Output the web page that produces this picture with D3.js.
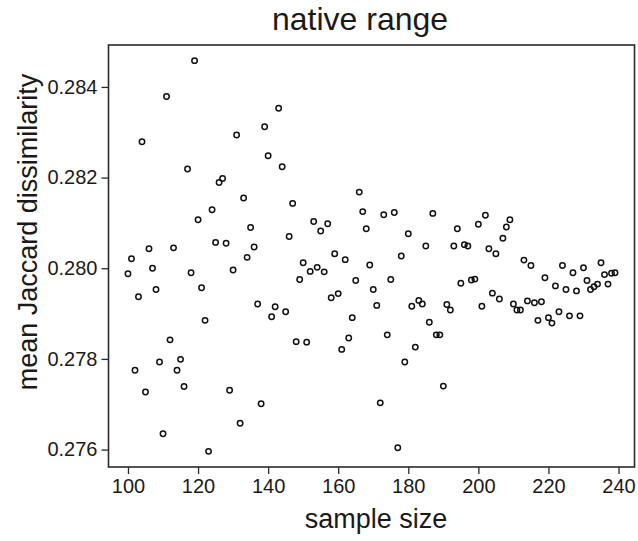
<!DOCTYPE html>
<head>
<meta charset="utf-8">
<title>native range</title>
<style>
  body { margin: 0; background: #fff; }
  svg { display: block; }
  text { font-family: "Liberation Sans", Arial, Helvetica, sans-serif; fill: #1a1a1a; }
  .tick text { font-size: 20px; }
  .tick line { stroke: #2a2a2a; stroke-width: 1.3px; }
  .pt { fill: none; stroke: #111; stroke-width: 1.5px; }
</style>
</head>
<body>
<script src="https://d3js.org/d3.v7.min.js"></script>
<script>

// sample sizes 100..239
var sampleSize = d3.range(100, 240);

// mean Jaccard dissimilarity
var dissim = [
  0.27988, 0.28021, 0.27775, 0.27937, 0.28279, 0.27727, 0.28043, 0.28000, 0.27953, 0.27793, // 100-109
  0.27635, 0.28379, 0.27842, 0.28045, 0.27775, 0.27799, 0.27739, 0.28219, 0.27990, 0.28458, // 110-119
  0.28107, 0.27957, 0.27885, 0.27596, 0.28129, 0.28057, 0.28189, 0.28198, 0.28055, 0.27731, // 120-129
  0.27996, 0.28294, 0.27658, 0.28155, 0.28024, 0.28090, 0.28047, 0.27921, 0.27701, 0.28312, // 130-139
  0.28248, 0.27893, 0.27915, 0.28353, 0.28224, 0.27904, 0.28070, 0.28143, 0.27838, 0.27975, // 140-149
  0.28012, 0.27837, 0.27993, 0.28103, 0.28002, 0.28082, 0.27992, 0.28098, 0.27935, 0.28032, // 150-159
  0.27944, 0.27821, 0.28019, 0.27846, 0.27891, 0.27973, 0.28168, 0.28125, 0.28087, 0.28007, // 160-169
  0.27953, 0.27918, 0.27703, 0.28118, 0.27853, 0.27975, 0.28123, 0.27604, 0.28027, 0.27793, // 170-179
  0.28076, 0.27916, 0.27826, 0.27929, 0.27921, 0.28049, 0.27881, 0.28121, 0.27853, 0.27853, // 180-189
  0.27740, 0.27920, 0.27908, 0.28049, 0.28087, 0.27967, 0.28052, 0.28049, 0.27974, 0.27976, // 190-199
  0.28097, 0.27916, 0.28117, 0.28043, 0.27945, 0.28032, 0.27932, 0.28066, 0.28091, 0.28107, // 200-209
  0.27921, 0.27908, 0.27908, 0.28018, 0.27928, 0.28006, 0.27924, 0.27885, 0.27926, 0.27979, // 210-219
  0.27891, 0.27879, 0.27961, 0.27904, 0.28006, 0.27953, 0.27895, 0.27990, 0.27950, 0.27895, // 220-229
  0.28001, 0.27973, 0.27953, 0.27959, 0.27965, 0.28012, 0.27986, 0.27965, 0.27989, 0.27990  // 230-239
];

var xTicks = [100, 120, 140, 160, 180, 200, 220, 240];
var yTicks = [0.276, 0.278, 0.280, 0.282, 0.284];

var width = 638, height = 541;
var plotL = 108.5, plotR = 634.5, plotT = 45, plotB = 467;

var svg = d3.select("body").append("svg")
    .attr("width", width)
    .attr("height", height);

// R style: pad the data range by 4% on each side
function padded(ext) {
  var p = (ext[1] - ext[0]) * 0.04;
  return [ext[0] - p, ext[1] + p];
}

var x = d3.scaleLinear()
    .domain(padded(d3.extent(sampleSize)))
    .range([plotL, plotR]);

var y = d3.scaleLinear()
    .domain(padded(d3.extent(dissim)))
    .range([plotB, plotT]);

svg.append("g")
    .attr("transform", "translate(0," + plotB + ")")
    .call(d3.axisBottom(x).tickValues(xTicks).tickSize(7).tickPadding(5))
    .call(function(g) { g.select(".domain").remove(); });

svg.append("g")
    .attr("transform", "translate(" + plotL + ",0)")
    .call(d3.axisLeft(y).tickValues(yTicks).tickSize(7).tickPadding(4)
      .tickFormat(d3.format(".3f")))
    .call(function(g) { g.select(".domain").remove(); });

svg.append("rect")
    .attr("x", plotL)
    .attr("y", plotT)
    .attr("width", plotR - plotL)
    .attr("height", plotB - plotT)
    .attr("fill", "none")
    .attr("stroke", "#2a2a2a")
    .attr("stroke-width", 1.6);

svg.append("g").selectAll("circle")
    .data(sampleSize)
  .enter().append("circle")
    .attr("class", "pt")
    .attr("cx", function(d) { return x(d); })
    .attr("cy", function(d, i) { return y(dissim[i]); })
    .attr("r", 2.7);

svg.append("text")
    .attr("x", 360)
    .attr("y", 30)
    .attr("text-anchor", "middle")
    .style("font-size", "32px")
    .text("native range");

svg.append("text")
    .attr("x", 376)
    .attr("y", 528)
    .attr("text-anchor", "middle")
    .style("font-size", "27px")
    .text("sample size");

svg.append("text")
    .attr("transform", "translate(37,232)rotate(-90)")
    .attr("text-anchor", "middle")
    .style("font-size", "27px")
    .text("mean Jaccard dissimilarity");

</script>
